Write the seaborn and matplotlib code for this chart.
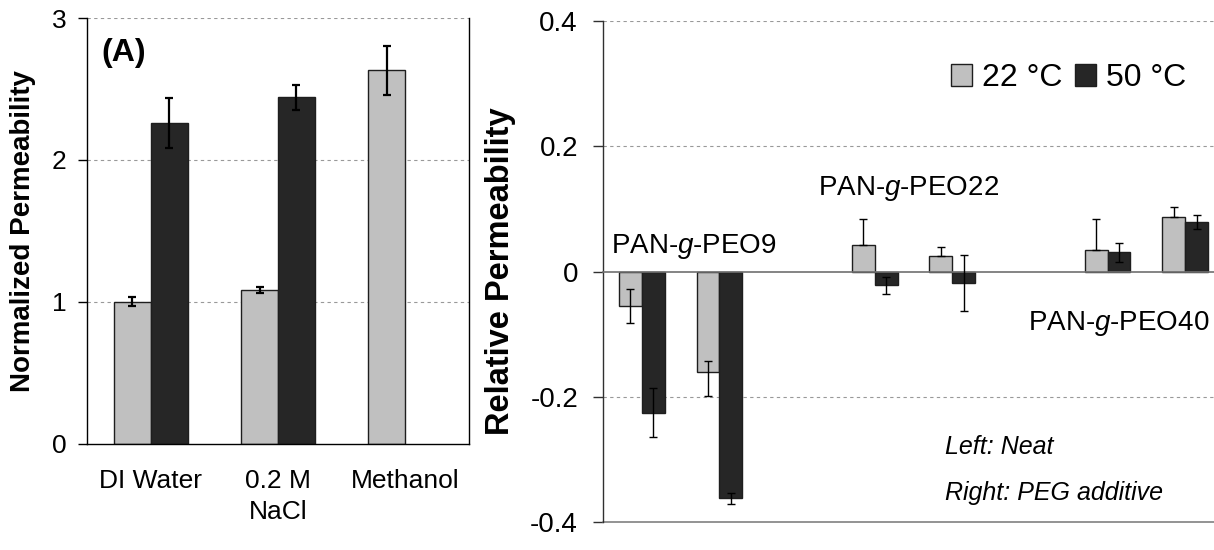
import numpy as np
import pandas as pd
import matplotlib
matplotlib.use("Agg")
import matplotlib.pyplot as plt
from matplotlib.patches import Patch
import seaborn as sns

# ---------------- data ----------------
temps = ["22 °C", "50 °C"]
colors = ["#c0c0c0", "#262626"]

left_categories = ["DI Water", "0.2 M\nNaCl", "Methanol"]
left_22 = [1.00, 1.085, 2.63]
left_50 = [2.26, 2.44, np.nan]
left_22_err = [0.032, 0.021, 0.174]
left_50_err = [0.174, 0.089, np.nan]
left_yticks = [0, 1, 2, 3]

right_slots = ["PEO9 neat", "PEO9 PEG", "gap A", "PEO22 neat", "PEO22 PEG",
               "gap B", "PEO40 neat", "PEO40 PEG"]
right_22 = [-0.055, -0.160, np.nan, 0.042, 0.025, np.nan, 0.034, 0.088]
right_50 = [-0.225, -0.362, np.nan, -0.022, -0.018, np.nan, 0.031, 0.079]
right_22_err_minus = [0.027, 0.039, np.nan, 0.0, 0.0, np.nan, 0.0, 0.0]
right_22_err_plus = [0.028, 0.0175, np.nan, 0.042, 0.0138, np.nan, 0.050, 0.0154]
right_50_err = [0.039, 0.0095, np.nan, 0.0135, 0.045, np.nan, 0.0155, 0.0115]
right_yticks = [-0.4, -0.2, 0, 0.2, 0.4]
right_ytick_labels = ["-0.4", "-0.2", "0", "0.2", "0.4"]

group_labels = ["PAN-$\\mathit{g}$-PEO9", "PAN-$\\mathit{g}$-PEO22", "PAN-$\\mathit{g}$-PEO40"]
note_lines = ["Left: Neat", "Right: PEG additive"]

# ---------------- style ----------------
sns.set_style("white")
plt.rcParams["font.family"] = ["Liberation Sans", "DejaVu Sans"]
plt.rcParams["mathtext.fontset"] = "custom"
plt.rcParams["mathtext.rm"] = "Liberation Sans"
plt.rcParams["mathtext.it"] = "Liberation Sans:italic"
plt.rcParams["axes.unicode_minus"] = False
for k in ["text.color", "axes.labelcolor", "xtick.color", "ytick.color"]:
    plt.rcParams[k] = "black"

fig = plt.figure(figsize=(12.14, 5.5), dpi=100)
axL = fig.add_axes([87 / 1214, 1 - 443.5 / 550, 382 / 1214, 425.5 / 550])
axR = fig.add_axes([603 / 1214, 1 - 522.3 / 550, 621 / 1214, 501.3 / 550])


def long_df(cats, v22, v50):
    rows = []
    for c, a, b in zip(cats, v22, v50):
        rows.append({"cat": c, "temp": temps[0], "val": a})
        rows.append({"cat": c, "temp": temps[1], "val": b})
    return pd.DataFrame(rows)


def draw_bars(ax, cats, v22, v50, width):
    df = long_df(cats, v22, v50)
    sns.barplot(data=df, x="cat", y="val", hue="temp", order=cats,
                hue_order=temps, palette=colors, saturation=1,
                width=width, errorbar=None, edgecolor="#1e1e1e",
                linewidth=1.0, legend=False, ax=ax, zorder=2)


def draw_err(ax, v, minus, plus, hue_index, lw, cap):
    cont = ax.containers[hue_index]
    xs, ys, lo, hi = [], [], [], []
    for p in cont.patches:
        xc = p.get_x() + p.get_width() / 2
        i = int(round(xc))
        if np.isnan(v[i]) or np.isnan(minus[i]):
            continue
        xs.append(xc)
        ys.append(v[i])
        lo.append(minus[i])
        hi.append(plus[i])
    ax.errorbar(xs, ys, yerr=[lo, hi], fmt="none", ecolor="black",
                elinewidth=lw, capsize=cap, capthick=lw, zorder=4)


grid_kw = dict(color="#999999", lw=0.8, ls=(0, (3, 3)), zorder=0)

# ---------------- left panel ----------------
draw_bars(axL, left_categories, left_22, left_50, 0.58)
draw_err(axL, left_22, left_22_err, left_22_err, 0, 1.6, 3)
draw_err(axL, left_50, left_50_err, left_50_err, 1, 1.6, 3)
axL.set_xlim(-0.5, len(left_categories) - 0.5)
axL.set_ylim(0, 3)
axL.set_yticks(left_yticks)
axL.set_yticklabels([str(t) for t in left_yticks], fontsize=19)
for t in left_yticks[1:]:
    axL.axhline(t, **grid_kw)
axL.set_xticks(range(len(left_categories)))
axL.set_xticklabels(left_categories, fontsize=19, linespacing=1.4)
axL.set_xticks(np.arange(-0.5, len(left_categories)), minor=True)
axL.tick_params(axis="x", which="major", length=0, pad=18)
axL.tick_params(axis="x", which="minor", length=6, width=1, color="black", direction="out")
axL.tick_params(axis="y", length=6.5, width=1, color="black", direction="out", pad=8, left=True)
axL.set_xlabel("")
axL.set_ylabel("Normalized Permeability", fontsize=20, fontweight="bold")
axL.yaxis.set_label_coords(-0.134, 0.5)
for s in ["left", "bottom", "right"]:
    axL.spines[s].set_color("black")
    axL.spines[s].set_linewidth(1)
axL.spines["top"].set_visible(False)
axL.text(-0.215, 2.754, "(A)", fontsize=23, fontweight="bold", ha="center", va="center")

# ---------------- right panel ----------------
draw_bars(axR, right_slots, right_22, right_50, 0.59)
draw_err(axR, right_22, right_22_err_minus, right_22_err_plus, 0, 1.0, 3.2)
draw_err(axR, right_50, right_50_err, right_50_err, 1, 1.0, 3.2)
axR.set_xlim(-0.5, len(right_slots) - 0.5)
axR.set_ylim(-0.4, 0.4)
axR.set_yticks(right_yticks)
axR.set_yticklabels(right_ytick_labels, fontsize=20)
for t in [-0.2, 0.2, 0.4]:
    axR.axhline(t, **grid_kw)
axR.axhline(-0.4, color="#808080", lw=1.2, zorder=1, clip_on=False)
axR.spines["bottom"].set_position(("data", 0))
axR.spines["bottom"].set_color("#707070")
axR.spines["bottom"].set_linewidth(1.2)
axR.spines["top"].set_visible(False)
axR.spines["right"].set_visible(False)
axR.spines["left"].set_color("#303030")
axR.spines["left"].set_linewidth(1)
axR.set_xticks(np.arange(0.5, len(right_slots) - 0.5))
axR.set_xticklabels([])
axR.tick_params(axis="x", length=2, width=1, color="#707070", direction="inout")
axR.tick_params(axis="y", length=7, width=1, color="#303030", direction="out", pad=11, left=True)
axR.set_xlabel("")
axR.set_ylabel("Relative Permeability", fontsize=23.5, fontweight="bold")
axR.yaxis.set_label_coords(-0.14, 0.5)

axR.text(0.673, 0.040, group_labels[0], fontsize=20, ha="center", va="center")
axR.text(3.43, 0.132, group_labels[1], fontsize=20, ha="center", va="center")
axR.text(6.14, -0.082, group_labels[2], fontsize=20, ha="center", va="center")
axR.text(3.907, -0.280, note_lines[0], fontsize=18, style="italic", ha="left", va="center")
axR.text(3.907, -0.353, note_lines[1], fontsize=18, style="italic", ha="left", va="center")

handles = [Patch(facecolor=c, edgecolor="#1e1e1e", lw=1) for c in colors]
axR.legend(handles, temps, ncol=2, frameon=False, fontsize=23,
           handlelength=0.66, handleheight=0.66, handletextpad=0.3,
           columnspacing=0.4, loc="center", bbox_to_anchor=(0.75, 0.886),
           borderaxespad=0, borderpad=0)

fig.savefig("out.png", dpi=100)
